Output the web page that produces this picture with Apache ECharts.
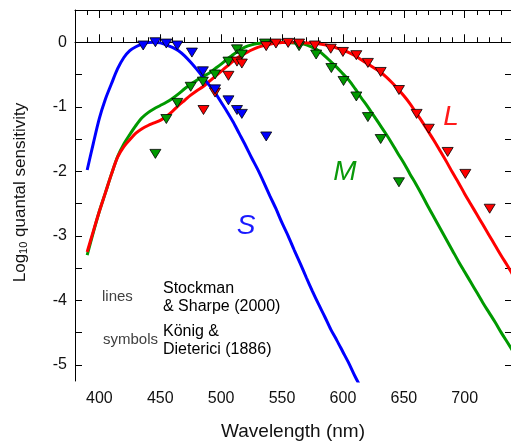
<!DOCTYPE html>
<html>
<head>
<meta charset="utf-8">
<script src="https://cdn.jsdelivr.net/npm/echarts@6/dist/echarts.min.js"></script>
<style>
  html, body { margin: 0; padding: 0; background: #fff; }
  #chart { width: 511px; height: 441px; }
</style>
</head>
<body>
<div id="chart"></div>
<script>
// wavelengths (nm) for the Stockman & Sharpe (2000) curves
var lineWl = [390, 395, 400, 405, 410, 415, 420, 425, 430, 435, 440, 445, 450, 455, 460, 465,
  470, 475, 480, 485, 490, 495, 500, 505, 510, 515, 520, 525, 530, 535, 540, 545, 550, 555,
  560, 565, 570, 575, 580, 585, 590, 595, 600, 605, 610, 615, 620, 625, 630, 635, 640, 645,
  650, 655, 660, 665, 670, 675, 680, 685, 690, 695, 700, 705, 710, 715, 720, 725, 730, 735, 740];

// log10 quantal sensitivity
var sLine = [-1.98, -1.57, -1.18, -0.88, -0.64, -0.41, -0.24, -0.13, -0.07, -0.03, -0.005, 0,
  -0.01, -0.04, -0.08, -0.13, -0.21, -0.31, -0.42, -0.54, -0.66, -0.78, -0.93, -1.08, -1.24,
  -1.42, -1.60, -1.79, -1.97, -2.17, -2.38, -2.58, -2.80, -3.00, -3.22, -3.43, -3.65, -3.86,
  -4.06, -4.25, -4.45, -4.62, -4.80, -4.98, -5.18, -5.36];
var mLine = [-3.30, -2.95, -2.62, -2.33, -2.04, -1.77, -1.58, -1.43, -1.29, -1.17, -1.09, -1.03,
  -0.98, -0.93, -0.87, -0.80, -0.72, -0.65, -0.59, -0.53, -0.48, -0.41, -0.34, -0.26, -0.19,
  -0.12, -0.07, -0.04, -0.02, -0.01, -0.005, 0, 0, -0.005, -0.01, -0.02, -0.04, -0.08, -0.13,
  -0.21, -0.30, -0.39, -0.49, -0.59, -0.72, -0.86, -0.99, -1.13, -1.27, -1.41, -1.56, -1.72,
  -1.87, -2.04, -2.20, -2.37, -2.55, -2.72, -2.89, -3.06, -3.23, -3.40, -3.56, -3.72, -3.88,
  -4.04, -4.19, -4.34, -4.50, -4.65, -4.80];
var lLine = [-3.25, -2.93, -2.62, -2.33, -2.04, -1.78, -1.62, -1.51, -1.41, -1.34, -1.29, -1.25,
  -1.21, -1.15, -1.07, -0.98, -0.90, -0.82, -0.75, -0.69, -0.61, -0.53, -0.45, -0.37, -0.29,
  -0.22, -0.17, -0.12, -0.08, -0.05, -0.03, -0.01, -0.005, 0, 0, -0.005, -0.01, -0.015, -0.025,
  -0.04, -0.06, -0.09, -0.12, -0.16, -0.21, -0.27, -0.33, -0.39, -0.45, -0.53, -0.62, -0.72,
  -0.83, -0.95, -1.09, -1.23, -1.38, -1.53, -1.69, -1.85, -2.02, -2.18, -2.35, -2.51, -2.67,
  -2.83, -2.99, -3.15, -3.31, -3.46, -3.62];

// König & Dieterici (1886) symbols
var sDotWl = [436, 446, 455, 464, 476, 485, 495, 506, 513, 517, 537];
var sDot = [-0.05, 0, -0.02, -0.05, -0.16, -0.45, -0.73, -0.90, -1.05, -1.11, -1.46];
var mDotWl = [446, 455, 464, 475, 485, 495, 506, 513, 517, 536, 564, 578, 590.5, 600.5, 611, 620.5, 631, 646];
var mDot = [-1.73, -1.19, -0.94, -0.69, -0.61, -0.50, -0.30, -0.11, -0.19, -0.02, -0.06, -0.19, -0.40, -0.60, -0.84, -1.16, -1.50, -2.17];
var lDotWl = [485.5, 495, 506, 513, 517, 537, 545, 555, 564, 577, 590, 600, 611, 620.5, 631, 646, 660.5, 670.5, 686, 700.5, 720.5];
var lDot = [-1.05, -0.78, -0.52, -0.30, -0.33, -0.06, -0.02, -0.01, -0.02, -0.05, -0.10, -0.15, -0.20, -0.32, -0.46, -0.74, -1.11, -1.34, -1.70, -2.04, -2.58];

var xMajor = [400, 450, 500, 550, 600, 650, 700];
var yTicks = [0.5, 0, -0.5, -1, -1.5, -2, -2.5, -3, -3.5, -4, -4.5, -5];
var yLabels = [0, -1, -2, -3, -4, -5];

var BLUE = '#0000ff', GREEN = '#009900', RED = '#ff0000';
var FONT = '"Liberation Sans", Arial, sans-serif';

function pairs(xs, ys) {
  var out = [];
  for (var i = 0; i < ys.length; i++) out.push([xs[i], ys[i]]);
  return out;
}

function lineSeries(data, color) {
  return {
    type: 'line', data: pairs(lineWl, data), showSymbol: false, smooth: 0.3,
    lineStyle: { color: color, width: 3 }, silent: true
  };
}

function dotSeries(xs, ys, color) {
  return {
    type: 'scatter', data: pairs(xs, ys), symbol: 'triangle', symbolRotate: 180,
    symbolSize: [11, 9], itemStyle: { color: color, borderColor: '#000', borderWidth: 0.8, opacity: 1 },
    z: 3
  };
}

function xAx(pos, major, withLabel) {
  return {
    type: 'value', position: pos, min: 380, max: 738, interval: 10,
    axisLine: { show: !major, lineStyle: { color: '#000', width: 1 } },
    axisTick: major ? { inside: true, length: 8, customValues: xMajor, lineStyle: { color: '#000' } }
                    : { inside: true, length: 5, lineStyle: { color: '#000' } },
    axisLabel: withLabel ? { customValues: xMajor, color: '#111', fontSize: 16, fontFamily: FONT, margin: 10 }
                         : { show: false },
    splitLine: { show: false },
    name: withLabel ? 'Wavelength (nm)' : '', nameLocation: 'middle', nameGap: 41,
    nameTextStyle: { color: '#111', fontSize: 19, fontFamily: FONT }
  };
}

var chart = echarts.init(document.getElementById('chart'), null, { renderer: 'canvas' });

chart.setOption({
  animation: false,
  backgroundColor: '#fff',
  grid: { left: 75, top: 10, right: 0, bottom: 60, containLabel: false, outerBoundsMode: 'none' },
  xAxis: [xAx('bottom', false, false), xAx('bottom', true, true), xAx('top', false, false), xAx('top', true, false)],
  yAxis: [
    {
      type: 'value', position: 'left', min: -5.25, max: 0.5,
      axisLine: { show: true, lineStyle: { color: '#000' } },
      axisTick: { inside: true, length: 7, customValues: yTicks, lineStyle: { color: '#000' } },
      axisLabel: { customValues: yLabels, color: '#111', fontSize: 16, fontFamily: FONT, margin: 8 },
      splitLine: { show: false },
      name: '{a|Log}{b|10}{a| quantal sensitivity}', nameLocation: 'middle', nameGap: 46,
      nameTextStyle: {
        padding: [0, 0, 0, 6],
        rich: {
          a: { fontSize: 17, fontFamily: FONT, color: '#111' },
          b: { fontSize: 11, fontFamily: FONT, color: '#111', verticalAlign: 'bottom', padding: [7, 0, 0, 0] }
        }
      }
    },
    {
      type: 'value', position: 'right', min: -5.25, max: 0.5,
      axisLine: { show: true, lineStyle: { color: '#000' } },
      axisTick: { inside: true, length: 6, customValues: yTicks, lineStyle: { color: '#000' } },
      axisLabel: { show: false },
      splitLine: { show: false }
    }
  ],
  series: [
    lineSeries(mLine, GREEN),
    lineSeries(lLine, RED),
    lineSeries(sLine, BLUE),
    dotSeries(mDotWl, mDot, GREEN),
    dotSeries(lDotWl, lDot, RED),
    dotSeries(sDotWl, sDot, BLUE)
  ],
  graphic: [
    { type: 'text', x: 246, y: 226, style: { text: 'S', fill: '#1a1aff', font: 'italic 28px ' + FONT, align: 'center', verticalAlign: 'middle' } },
    { type: 'text', x: 345, y: 172, style: { text: 'M', fill: '#0a990a', font: 'italic 28px ' + FONT, align: 'center', verticalAlign: 'middle' } },
    { type: 'text', x: 451, y: 117, style: { text: 'L', fill: '#ff1a1a', font: 'italic 28px ' + FONT, align: 'center', verticalAlign: 'middle' } },
    { type: 'text', x: 102, y: 297, style: { text: 'lines', fill: '#404040', font: '15px "Liberation Sans Narrow", ' + FONT, verticalAlign: 'middle' } },
    { type: 'text', x: 103, y: 340, style: { text: 'symbols', fill: '#404040', font: '15px "Liberation Sans Narrow", ' + FONT, verticalAlign: 'middle' } },
    { type: 'text', x: 163, y: 289, style: { text: 'Stockman', fill: '#000', font: '16px ' + FONT, verticalAlign: 'middle' } },
    { type: 'text', x: 163, y: 307, style: { text: '& Sharpe (2000)', fill: '#000', font: '16px ' + FONT, verticalAlign: 'middle' } },
    { type: 'text', x: 163, y: 332, style: { text: 'König &', fill: '#000', font: '16px ' + FONT, verticalAlign: 'middle' } },
    { type: 'text', x: 163, y: 350, style: { text: 'Dieterici (1886)', fill: '#000', font: '16px ' + FONT, verticalAlign: 'middle' } }
  ]
});
</script>
</body>
</html>
